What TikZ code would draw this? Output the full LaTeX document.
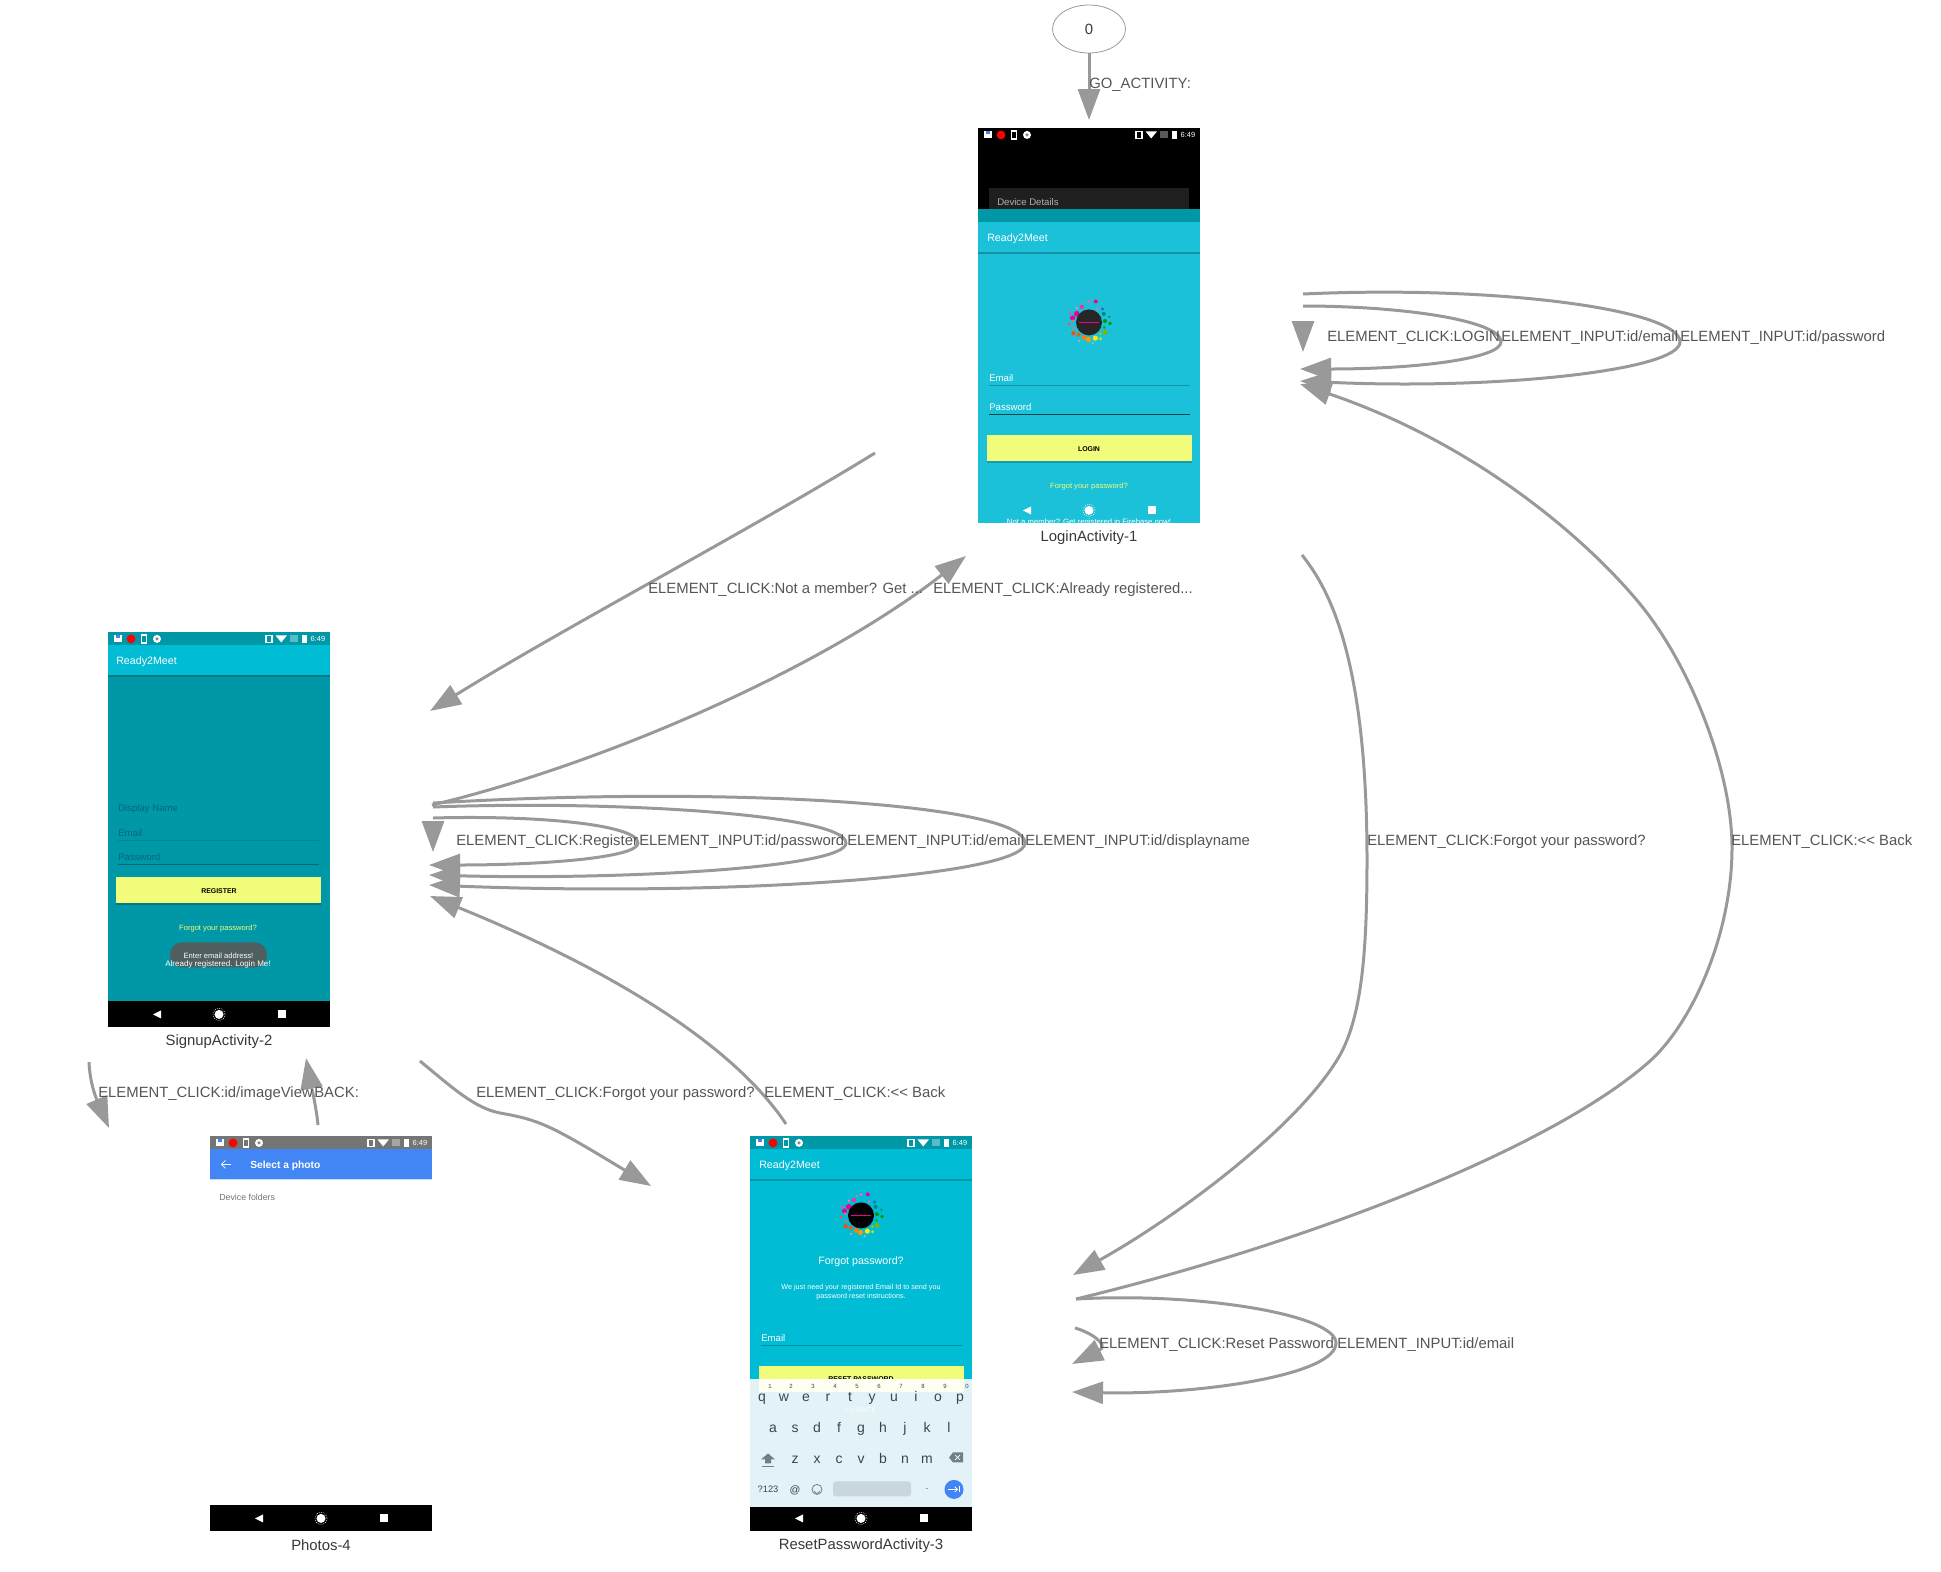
\documentclass[tikz,border=0pt]{standalone}
\usepackage{fontspec}
\setmainfont{Liberation Sans}
\usetikzlibrary{positioning, arrows.meta, calc, shapes.geometric}
\definecolor{edge-gray}{HTML}{999999}
\definecolor{label-gray}{HTML}{555555}
\definecolor{app-teal}{HTML}{0097A7}
\definecolor{app-cyan}{HTML}{00BCD4}
\definecolor{login-cyan}{HTML}{1BC1D9}
\definecolor{app-yellow}{HTML}{F0FC7A}
\definecolor{app-blue}{HTML}{4285F4}
\definecolor{key-pale}{HTML}{E3F2F6}
\definecolor{key-ink}{HTML}{37474F}
\definecolor{key-space}{HTML}{C9D7DC}
\definecolor{hint-teal}{HTML}{00697A}
\definecolor{toast-gray}{HTML}{4F5E5F}
\tikzset{
	screen/.style={inner sep=0pt, outer sep=0pt, minimum width=166.5pt, minimum height=296.25pt},
	caption/.style={inner sep=0pt, text=black!78, font=\fontsize{11.15}{13}\selectfont},
	edgelabel/.style={anchor=west, inner sep=0pt, text height=8pt, text depth=0pt, text=label-gray, font=\fontsize{11.15}{13}\selectfont},
	flow/.style={-{Triangle[length=23.25pt,width=16.5pt]}, draw=edge-gray, line width=2.25pt},
	uitext/.style={inner sep=0pt, text=white, font=\fontsize{#1}{#1}\selectfont},
	keytext/.style={inner sep=0pt, text=key-ink, font=\fontsize{#1}{#1}\selectfont},
}
% status bar icons, local pixels of a screen
\newcommand{\statusicons}[1]{
	\fill[white] (6,3) rectangle (14,10);
	\fill[app-blue] (8,3) rectangle (12,6);
	\fill[red] (23,6.5) circle (4.4);
	\draw[white, line width=1pt] (33.5,2.5) rectangle (38.5,10.5);
	\fill[white] (49,6.5) circle (4);
	\fill[black!45] (49,6.5) circle (1.8);
	\draw[white, line width=1pt] (158,3) rectangle (164,10);
	\fill[white] (167.5,3) -- (179,3) -- (173.2,10) -- cycle;
	\fill[white, opacity=.35] (182,3) rectangle (190,10);
	\fill[white] (193.5,3) rectangle (198.5,10.5);
	\node[uitext=5.6] (#1-clock) at (210,6.5) {6:49};
}
% back, home and recent keys on the row at height #1
\newcommand{\navicons}[1]{
	\fill[white] (53,#1-4) -- (53,#1+4) -- (45,#1) -- cycle;
	\fill[white] (111,#1) circle (4.5);
	\draw[white, line width=.5pt, densely dotted] (111,#1) circle (6);
	\fill[white] (170,#1-4) rectangle (178,#1+4);
}
% round logo with its coloured splashes
\newcommand{\logoburst}[3]{
	\begin{scope}[shift={(#1,#2)}]
		\foreach \a/\r/\s/\c in {195/17/2.6/magenta, 205/21/1.6/magenta!70, 215/15/2.8/magenta, 230/19/1.4/magenta!50, 245/17/2.2/magenta!80, 258/20/1.3/black!40, 270/21/1.6/magenta!60, 288/22/2/magenta, 300/16/1.4/magenta!60, 315/19/1.6/cyan!50!blue, 330/17/2/teal, 345/21/1.3/green!60!blue, 355/16/2/green!60!black, 3/21/1.8/green!60!black, 18/16/1.5/green!70!black, 32/19/2.4/lime!70!black, 45/16/1.5/lime!80!black, 55/20/1.6/yellow!80!green, 68/17/2.6/yellow!90!orange, 80/21/1.2/black!30, 92/17/2.6/orange!80!yellow, 108/16/2.4/orange, 118/21/1.2/black!30, 130/16/2/orange!70!red, 145/19/2.2/orange!60!red, 160/16/1.4/red!60, 175/20/1.6/red!70, 186/16/1.4/red!60}
			\fill[\c] (\a:\r) circle (\s);
		\fill[#3] (0,0) circle (13);
		\fill[magenta] (-10,-.6) rectangle (10,.6);
	\end{scope}
}
\begin{document}
\begin{tikzpicture}[x=.75pt, y=-.75pt, node distance=81.75pt]
	\useasboundingbox (0,0) rectangle (1941,1571);
	\node[ellipse, draw=edge-gray, line width=.6pt, inner sep=0pt, minimum width=54.75pt, minimum height=36pt, text=black!78, font=\fontsize{11.15}{13}\selectfont] (root) at (1089,29) {0};
	\node[screen, below=56.25pt of root, fill=login-cyan] (login) {};
	\node[screen, below=of login, xshift=-652.5pt, fill=app-teal] (signup) {};
	\node[screen, below=of signup, xshift=481.5pt, fill=app-cyan] (reset) {};
	\node[screen, below=of signup, xshift=76.5pt, fill=white] (photos) {};
	\node[caption] (login-name) at ($(login.south)+(0,14.5)$) {LoginActivity-1};
	\node[caption] (signup-name) at ($(signup.south)+(0,14)$) {SignupActivity-2};
	\node[caption] (reset-name) at ($(reset.south)+(0,14)$) {ResetPasswordActivity-3};
	\node[caption] (photos-name) at ($(photos.south)+(0,14)$) {Photos-4};

	% login screen
	\begin{scope}[shift={(login.north west)}]
		\clip (0,0) rectangle (222,395);
		\fill[black] (0,0) rectangle (222,81);
		\fill[black!88] (11,60) rectangle (211,81);
		\node[uitext=7.2, text=black!30, anchor=west] (login-device) at (19,74) {Device Details};
		\fill[app-teal] (0,81) rectangle (222,94);
		\fill[black!25!login-cyan] (0,124) rectangle (222,125.5);
		\statusicons{login}
		\node[uitext=8, anchor=west] (login-title) at (9,110) {Ready2Meet};
		\logoburst{111}{194}{black!85}
		\node[uitext=7.2, anchor=west] (login-email) at (11,250) {Email};
		\fill[black!25!login-cyan] (11,257) rectangle (212,258);
		\node[uitext=7.2, anchor=west] (login-pass) at (11,279) {Password};
		\fill[black!65!login-cyan] (11,286) rectangle (212,287);
		\fill[black!20!login-cyan] (9,307) rectangle (214,335);
		\fill[app-yellow] (9,307) rectangle (214,333);
		\node[uitext=5.2, text=black, font=\bfseries\fontsize{5.2}{6}\selectfont] (login-btn) at (111,321) {LOGIN};
		\node[uitext=5.7, text=app-yellow] (login-forgot) at (111,358) {Forgot your password?};
		\node[uitext=5.8] (login-join) at (111,394.5) {Not a member? Get registered in Firebase now!};
		\navicons{382}
	\end{scope}

	% signup screen
	\begin{scope}[shift={(signup.north west)}]
		\clip (0,0) rectangle (222,395);
		\fill[app-cyan] (0,13) rectangle (222,43);
		\fill[black!20!app-teal] (0,43) rectangle (222,45);
		\statusicons{signup}
		\node[uitext=8, anchor=west] (signup-title) at (8,29) {Ready2Meet};
		\node[uitext=7.2, text=hint-teal, anchor=west] (signup-display) at (10,177) {Display Name};
		\node[uitext=7.2, text=hint-teal, anchor=west] (signup-email) at (10,201) {Email};
		\fill[black!12!app-teal] (10,208) rectangle (211,209);
		\node[uitext=7.2, text=hint-teal, anchor=west] (signup-pass) at (10,225) {Password};
		\fill[hint-teal] (10,232) rectangle (211,233);
		\fill[black!20!app-teal] (8,245) rectangle (213,273);
		\fill[app-yellow] (8,245) rectangle (213,271);
		\node[uitext=5.2, text=black, font=\bfseries\fontsize{5.2}{6}\selectfont] (signup-btn) at (111,259) {REGISTER};
		\node[uitext=5.7, text=app-yellow] (signup-forgot) at (110,296) {Forgot your password?};
		\fill[toast-gray, rounded corners=9pt] (62,310) rectangle (159,335);
		\node[uitext=6] (signup-login) at (110,332.5) {Already registered. Login Me!};
		\node[uitext=5.7] (signup-toast) at (110.5,323) {Enter email address!};
		\fill[black] (0,369) rectangle (222,395);
		\navicons{382}
	\end{scope}

	% reset password screen
	\begin{scope}[shift={(reset.north west)}]
		\clip (0,0) rectangle (222,395);
		\fill[app-teal] (0,0) rectangle (222,13);
		\fill[black!20!app-cyan] (0,43) rectangle (222,45);
		\statusicons{reset}
		\node[uitext=8, anchor=west] (reset-title) at (9,29) {Ready2Meet};
		\logoburst{111}{79}{black}
		\node[uitext=8] (reset-head) at (111,125) {Forgot password?};
		\node[uitext=5.4] (reset-line-a) at (111,151.5) {We just need your registered Email Id to send you};
		\node[uitext=5.4] (reset-line-b) at (111,160.5) {password reset instructions.};
		\node[uitext=7.2, anchor=west] (reset-email) at (11,202) {Email};
		\fill[black!25!app-cyan] (11,209) rectangle (212,210);
		\fill[app-yellow] (9,230) rectangle (214,243);
		\node[uitext=5.2, text=black, font=\bfseries\fontsize{5.2}{6}\selectfont] (reset-btn) at (111,242.5) {RESET PASSWORD};
		\fill[key-pale] (0,243) rectangle (222,371);
		\fill[black!5!yellow!5!white] (9,243) rectangle (214,256);
		\node[uitext=5.5, text=white!85!key-pale] (reset-back) at (111,274) {<{}< BACK};
		\foreach \k/\x in {1/20,2/41,3/63,4/85,5/107,6/129,7/151,8/173,9/195,0/217}
			\node[keytext=4.5] (kb-n\k) at (\x,250) {\k};
		\foreach \k/\x in {q/12,w/34,e/56,r/78,t/100,y/122,u/144,i/166,o/188,p/210}
			\node[keytext=10.5, anchor=base] (kb-\k) at (\x,264.6) {\k};
		\foreach \k/\x in {a/23,s/45,d/67,f/89,g/111,h/133,j/155,k/177,l/199}
			\node[keytext=10.5, anchor=base] (kb-\k) at (\x,295.6) {\k};
		\foreach \k/\x in {z/45,x/67,c/89,v/111,b/133,n/155,m/177}
			\node[keytext=10.5, anchor=base] (kb-\k) at (\x,327) {\k};
		\fill[key-ink!70] (18,317) -- (25,323) -- (21,323) -- (21,327) -- (15,327) -- (15,323) -- (11,323) -- cycle;
		\fill[key-ink!70] (12,330) rectangle (24,331);
		\fill[key-ink!70] (199,321) -- (203,316) -- (213,316) -- (213,326) -- (203,326) -- cycle;
		\draw[key-pale, line width=.6pt] (205,318.5) -- (210,323.5) (210,318.5) -- (205,323.5);
		\node[keytext=7] (kb-sym) at (18,353) {?123};
		\node[keytext=8] (kb-at) at (45,354) {@};
		\draw[key-ink!70, line width=.6pt] (67,353) circle (5);
		\draw[key-ink!70, line width=.6pt] (64.5,354.5) arc (180:0:2.5);
		\fill[key-space, rounded corners=2pt] (83,345) rectangle (161,360);
		\node[keytext=7.5] (kb-dot) at (177,353) {.};
		\fill[app-blue] (204,353) circle (9.5);
		\draw[white, line width=.6pt, -{Straight Barb[length=2pt]}] (198,353) -- (208,353);
		\draw[white, line width=.6pt] (209.5,350) -- (209.5,356);
		\fill[black] (0,371) rectangle (222,395);
		\navicons{382}
	\end{scope}

	% photo picker screen
	\begin{scope}[shift={(photos.north west)}]
		\clip (0,0) rectangle (222,395);
		\fill[black!54] (0,0) rectangle (222,13);
		\fill[app-blue] (0,13) rectangle (222,43);
		\fill[app-blue!30] (0,43) rectangle (222,44);
		\statusicons{photos}
		\draw[white, line width=.5pt, -{Straight Barb[length=3pt,width=6pt]}] (21,28) -- (11,28);
		\node[uitext=7.7, anchor=west, font=\bfseries\fontsize{7.7}{9}\selectfont] (photos-title) at (40,29) {Select a photo};
		\node[uitext=6.6, text=black!55, anchor=west] (photos-folders) at (9,61) {Device folders};
		\fill[black] (0,369) rectangle (222,395);
		\navicons{382}
	\end{scope}

	% free ends
	\coordinate (root-in) at (1089,120);
	\coordinate (login-a) at (875,453);
	\coordinate (login-b) at (966,556);
	\coordinate (login-c) at (1302,555);
	\coordinate (login-back) at (1300,384);
	\coordinate (login-s1) at (1303,321);
	\coordinate (login-t1) at (1303,352);
	\coordinate (login-s2) at (1303,306);
	\coordinate (login-t2) at (1300,369);
	\coordinate (login-s3) at (1303,294);
	\coordinate (login-t3) at (1300,381);
	\coordinate (signup-a) at (430,711);
	\coordinate (signup-b) at (432,805);
	\coordinate (signup-c) at (430,896);
	\coordinate (signup-d) at (89,1062);
	\coordinate (signup-e) at (306,1058);
	\coordinate (signup-f) at (420,1061);
	\coordinate (signup-s1) at (433,822);
	\coordinate (signup-t1) at (433,852);
	\coordinate (signup-s2) at (433,818);
	\coordinate (signup-t2) at (429,865);
	\coordinate (signup-s3) at (433,807);
	\coordinate (signup-t3) at (429,875);
	\coordinate (signup-s4) at (433,803);
	\coordinate (signup-t4) at (429,885);
	\coordinate (photos-a) at (109,1128);
	\coordinate (photos-b) at (318,1125);
	\coordinate (reset-a) at (651,1186);
	\coordinate (reset-b) at (786,1124);
	\coordinate (reset-c) at (1073,1275);
	\coordinate (reset-d) at (1076,1299);
	\coordinate (reset-s1) at (1075,1328);
	\coordinate (reset-t1) at (1072,1364);
	\coordinate (reset-t2) at (1072,1392);

	\draw[flow] (root) -- (root-in);
	\draw[flow] (login-a) .. controls (750,530) and (560,630) .. (signup-a);
	\draw[flow] (signup-b) .. controls (600,765) and (820,670) .. (login-b);
	\draw[flow] (login-c) .. controls (1330,590) and (1367,660) .. (1367,860) .. controls (1367,950) and (1362,1015) .. (1340,1055) .. controls (1300,1125) and (1180,1215) .. (reset-c);
	\draw[flow] (reset-d) .. controls (1300,1245) and (1550,1150) .. (1650,1061) .. controls (1695,1020) and (1732,930) .. (1732,848) .. controls (1732,770) and (1690,665) .. (1640,604) .. controls (1590,543) and (1480,445) .. (login-back);
	\draw[flow] (reset-b) .. controls (730,1040) and (600,965) .. (signup-c);
	\draw[flow] (signup-f) .. controls (455,1090) and (475,1108) .. (500,1113) .. controls (540,1120) and (550,1125) .. (reset-a);
	\draw[flow] (signup-d) .. controls (90,1085) and (97,1100) .. (photos-a);
	\draw[flow] (photos-b) .. controls (316,1105) and (311,1085) .. (signup-e);
	% self loops
	\draw[flow] (login-s1) -- (login-t1);
	\draw[flow] (login-s2) .. controls (1400,306) and (1501,320) .. (1501,342) .. controls (1501,358) and (1420,369) .. (login-t2);
	\draw[flow] (login-s3) .. controls (1500,285) and (1680,310) .. (1680,342) .. controls (1680,370) and (1500,390) .. (login-t3);
	\draw[flow] (signup-s1) -- (signup-t1);
	\draw[flow] (signup-s2) .. controls (540,815) and (638,825) .. (638,843) .. controls (638,858) and (540,865) .. (signup-t2);
	\draw[flow] (signup-s3) .. controls (620,800) and (846,815) .. (846,843) .. controls (846,868) and (620,880) .. (signup-t3);
	\draw[flow] (signup-s4) .. controls (740,785) and (1025,805) .. (1025,843) .. controls (1025,875) and (740,897) .. (signup-t4);
	\draw[flow] (reset-s1) .. controls (1090,1332) and (1110,1345) .. (reset-t1);
	\draw[flow] (reset-d) .. controls (1200,1292) and (1336,1315) .. (1336,1343) .. controls (1336,1375) and (1200,1395) .. (reset-t2);

	\node[edgelabel] (lab-go) at (1089,83) {GO\_ACTIVITY:};
	\node[edgelabel] (lab-login) at (1327,336) {ELEMENT\_CLICK:LOGIN};
	\node[edgelabel] (lab-login-mail) at (1501,336) {ELEMENT\_INPUT:id/email};
	\node[edgelabel] (lab-login-pass) at (1680,336) {ELEMENT\_INPUT:id/password};
	\node[edgelabel] (lab-member) at (648,588) {ELEMENT\_CLICK:Not a member? Get ...};
	\node[edgelabel] (lab-already) at (933,588) {ELEMENT\_CLICK:Already registered...};
	\node[edgelabel] (lab-register) at (456,840) {ELEMENT\_CLICK:Register};
	\node[edgelabel] (lab-signup-pass) at (639,840) {ELEMENT\_INPUT:id/password};
	\node[edgelabel] (lab-signup-mail) at (847,840) {ELEMENT\_INPUT:id/email};
	\node[edgelabel] (lab-signup-name) at (1025,840) {ELEMENT\_INPUT:id/displayname};
	\node[edgelabel] (lab-forgot) at (1367,840) {ELEMENT\_CLICK:Forgot your password?};
	\node[edgelabel] (lab-back) at (1731,840) {ELEMENT\_CLICK:<{}< Back};
	\node[edgelabel] (lab-image) at (98,1092) {ELEMENT\_CLICK:id/imageView};
	\node[edgelabel] (lab-backkey) at (314,1092) {BACK:};
	\node[edgelabel] (lab-signup-forgot) at (476,1092) {ELEMENT\_CLICK:Forgot your password?};
	\node[edgelabel] (lab-reset-back) at (764,1092) {ELEMENT\_CLICK:<{}< Back};
	\node[edgelabel] (lab-reset) at (1099,1343) {ELEMENT\_CLICK:Reset Password};
	\node[edgelabel] (lab-reset-mail) at (1337,1343) {ELEMENT\_INPUT:id/email};
\end{tikzpicture}
\end{document}
